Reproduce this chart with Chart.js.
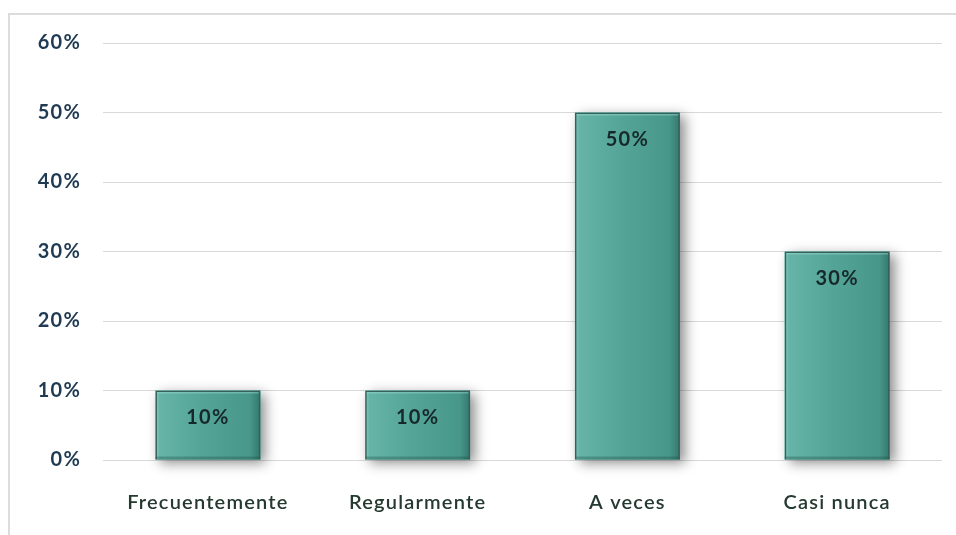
<!DOCTYPE html>
<html>
<head>
<meta charset="utf-8">
<script src="https://cdn.jsdelivr.net/npm/chart.js@4.4.1/dist/chart.umd.min.js"></script>
<style>
  html, body { margin: 0; padding: 0; background: #fff; }
  #wrap { position: relative; width: 956px; height: 535px; overflow: hidden; }
  #frame { position: absolute; left: 8px; top: 13px; right: -4px; bottom: -4px;
           border-left: 2px solid #dcdcdc; border-top: 2px solid #dcdcdc; }
  #chart { position: absolute; left: 0; top: 0; }
</style>
</head>
<body>
<div id="wrap">
  <div id="frame"></div>
  <canvas id="chart" width="956" height="535"></canvas>
</div>
<script>
// datos
const categorias = ['Frecuentemente', 'Regularmente', 'A veces', 'Casi nunca'];
const porcentajes = [10, 10, 50, 30];
const ticksY = [0, 10, 20, 30, 40, 50, 60];

const fuente = 'Lato, "Open Sans", sans-serif';

// espaciado de letras (el contexto se reinicia al dimensionar, por eso en beforeDraw)
const espaciado = {
  id: 'espaciado',
  beforeDraw(chart) { chart.ctx.letterSpacing = '1.2px'; }
};

// sombra y relleno degradado de cada barra; el borde lo pinta Chart.js
const relieve = {
  id: 'relieve',
  beforeDatasetsDraw(chart) {
    const ctx = chart.ctx;
    const meta = chart.getDatasetMeta(0);
    meta.data.forEach(el => {
      const x0 = el.x - el.width / 2, x1 = el.x + el.width / 2;
      const h = el.base - el.y;
      ctx.save();
      ctx.shadowColor = 'rgba(0,0,0,0.45)';
      ctx.shadowBlur = 12;
      ctx.shadowOffsetX = 5;
      ctx.shadowOffsetY = 3;
      ctx.fillStyle = '#4a9a8e';
      ctx.fillRect(x0, el.y, el.width, h);
      ctx.restore();

      const g = ctx.createLinearGradient(x0, 0, x1, 0);
      g.addColorStop(0, '#86cbc0');
      g.addColorStop(0.04, '#66b4a8');
      g.addColorStop(0.45, '#54a498');
      g.addColorStop(0.9, '#48978b');
      g.addColorStop(1, '#33786e');
      ctx.save();
      ctx.fillStyle = g;
      ctx.fillRect(x0, el.y, el.width, h);
      // brillo en el borde superior, oscurecido abajo
      ctx.fillStyle = 'rgba(160,220,210,0.45)';
      ctx.fillRect(x0, el.y, el.width, 3);
      ctx.fillStyle = 'rgba(30,80,72,0.35)';
      ctx.fillRect(x0, el.base - 3, el.width, 3);
      ctx.restore();
    });
  }
};

// etiquetas de valor dentro de la barra
const etiquetas = {
  id: 'etiquetas',
  afterDatasetsDraw(chart) {
    const ctx = chart.ctx;
    const meta = chart.getDatasetMeta(0);
    ctx.save();
    ctx.font = 'bold 20px ' + fuente;
    ctx.fillStyle = '#16282a';
    ctx.textAlign = 'center';
    ctx.textBaseline = 'middle';
    meta.data.forEach((bar, i) => {
      ctx.fillText(porcentajes[i] + '%', bar.x, bar.y + 27);
    });
    ctx.restore();
  }
};

new Chart(document.getElementById('chart'), {
  type: 'bar',
  data: {
    labels: categorias,
    datasets: [{
      data: porcentajes,
      backgroundColor: 'rgba(0,0,0,0)',
      borderColor: '#35615a',
      borderWidth: 1.5,
      barPercentage: 0.5,
      categoryPercentage: 1
    }]
  },
  plugins: [espaciado, relieve, etiquetas],
  options: {
    responsive: false,
    animation: false,
    layout: { padding: { top: 43, right: 14, left: 0, bottom: 0 } },
    plugins: { legend: { display: false }, tooltip: { enabled: false } },
    scales: {
      x: {
        grid: { display: false, drawTicks: false },
        border: { display: false },
        ticks: {
          color: '#24392f',
          font: { family: fuente, size: 20, weight: '600' },
          padding: 31
        },
        afterFit: s => { s.height = 75; }
      },
      y: {
        min: 0,
        max: 60,
        afterBuildTicks: s => { s.ticks = ticksY.map(v => ({ value: v })); },
        grid: { color: '#d9d9d9', lineWidth: 1, drawTicks: false },
        border: { display: false },
        ticks: {
          color: '#1f3a52',
          font: { family: fuente, size: 20, weight: 'bold' },
          padding: 22,
          callback: v => v + '%'
        },
        afterFit: s => { s.width = 103; }
      }
    }
  }
});
</script>
</body>
</html>
